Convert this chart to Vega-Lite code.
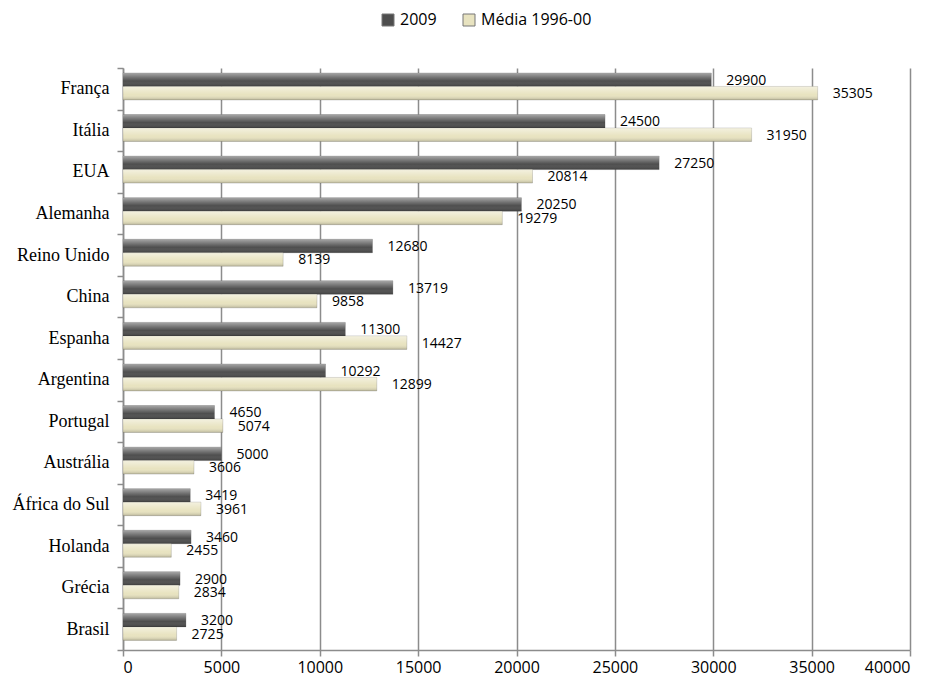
{
  "$schema": "https://vega.github.io/schema/vega-lite/v6.json",
  "width": 787,
  "height": 582,
  "autosize": {"type": "none"},
  "padding": {"left": 123, "top": 68, "right": 26, "bottom": 30},
  "background": "white",
  "config": {
    "view": {"stroke": null},
    "axis": {"labelColor": "black"}
  },
  "data": {
    "values": [
      {"pais": "França", "serie": "2009", "valor": 29900},
      {"pais": "França", "serie": "Média 1996-00", "valor": 35305},
      {"pais": "Itália", "serie": "2009", "valor": 24500},
      {"pais": "Itália", "serie": "Média 1996-00", "valor": 31950},
      {"pais": "EUA", "serie": "2009", "valor": 27250},
      {"pais": "EUA", "serie": "Média 1996-00", "valor": 20814},
      {"pais": "Alemanha", "serie": "2009", "valor": 20250},
      {"pais": "Alemanha", "serie": "Média 1996-00", "valor": 19279},
      {"pais": "Reino Unido", "serie": "2009", "valor": 12680},
      {"pais": "Reino Unido", "serie": "Média 1996-00", "valor": 8139},
      {"pais": "China", "serie": "2009", "valor": 13719},
      {"pais": "China", "serie": "Média 1996-00", "valor": 9858},
      {"pais": "Espanha", "serie": "2009", "valor": 11300},
      {"pais": "Espanha", "serie": "Média 1996-00", "valor": 14427},
      {"pais": "Argentina", "serie": "2009", "valor": 10292},
      {"pais": "Argentina", "serie": "Média 1996-00", "valor": 12899},
      {"pais": "Portugal", "serie": "2009", "valor": 4650},
      {"pais": "Portugal", "serie": "Média 1996-00", "valor": 5074},
      {"pais": "Austrália", "serie": "2009", "valor": 5000},
      {"pais": "Austrália", "serie": "Média 1996-00", "valor": 3606},
      {"pais": "África do Sul", "serie": "2009", "valor": 3419},
      {"pais": "África do Sul", "serie": "Média 1996-00", "valor": 3961},
      {"pais": "Holanda", "serie": "2009", "valor": 3460},
      {"pais": "Holanda", "serie": "Média 1996-00", "valor": 2455},
      {"pais": "Grécia", "serie": "2009", "valor": 2900},
      {"pais": "Grécia", "serie": "Média 1996-00", "valor": 2834},
      {"pais": "Brasil", "serie": "2009", "valor": 3200},
      {"pais": "Brasil", "serie": "Média 1996-00", "valor": 2725}
    ]
  },
  "encoding": {
    "y": {
      "field": "pais",
      "type": "nominal",
      "sort": ["França", "Itália", "EUA", "Alemanha", "Reino Unido", "China", "Espanha", "Argentina", "Portugal", "Austrália", "África do Sul", "Holanda", "Grécia", "Brasil"],
      "scale": {"paddingInner": 0, "paddingOuter": 0},
      "axis": {
        "title": null,
        "labelFont": "Liberation Serif",
        "labelFontSize": 18,
        "labelPadding": 8,
        "tickBand": "extent",
        "tickSize": 6,
        "tickColor": "#8c8c8c",
        "tickWidth": 1.5,
        "domainColor": "#8c8c8c",
        "domainWidth": 1.5,
        "grid": false
      }
    },
    "yOffset": {
      "field": "serie",
      "type": "nominal",
      "scale": {"paddingInner": 0, "paddingOuter": 0.54, "align": 0.34}
    },
    "x": {
      "field": "valor",
      "type": "quantitative",
      "scale": {"domain": [0, 40000], "nice": false},
      "axis": {
        "title": null,
        "values": [0, 5000, 10000, 15000, 20000, 25000, 30000, 35000, 40000],
        "format": "d",
        "labelFont": "Open Sans",
        "labelFontSize": 16,
        "labelPadding": 3,
        "tickSize": 6,
        "tickColor": "#8c8c8c",
        "tickWidth": 1.5,
        "domainColor": "#8c8c8c",
        "domainWidth": 1.5,
        "grid": true,
        "gridColor": "#8c8c8c",
        "gridWidth": 1.5
      }
    }
  },
  "layer": [
    {
      "mark": {"type": "bar", "stroke": "#3a3a3a", "strokeWidth": 0.5, "strokeOpacity": 0.4},
      "encoding": {
        "color": {
          "field": "serie",
          "type": "nominal",
          "scale": {"domain": ["2009", "Média 1996-00"], "range": ["#4e4e4e", "#e8e3c0"]},
          "legend": {
            "title": null,
            "orient": "none",
            "direction": "horizontal",
            "legendX": 257,
            "legendY": -56,
            "symbolType": "square",
            "symbolSize": 144,
            "symbolStrokeColor": "#777",
            "symbolStrokeWidth": 1,
            "labelFont": "Open Sans",
            "labelFontSize": 16,
            "labelColor": "black",
            "columnPadding": 24,
            "labelOffset": 4
          }
        }
      }
    },
    {
      "mark": {
        "type": "bar",
        "color": {
          "gradient": "linear",
          "x1": 0, "y1": 0, "x2": 0, "y2": 1,
          "stops": [
            {"offset": 0, "color": "rgba(255,255,255,0.5)"},
            {"offset": 0.35, "color": "rgba(255,255,255,0.2)"},
            {"offset": 0.6, "color": "rgba(255,255,255,0)"},
            {"offset": 1, "color": "rgba(0,0,0,0.2)"}
          ]
        }
      },
      "encoding": {}
    },
    {
      "mark": {"type": "text", "align": "left", "baseline": "middle", "dx": 15, "dy": 1, "font": "Open Sans", "fontSize": 14, "color": "black"},
      "encoding": {
        "text": {"field": "valor", "type": "quantitative", "format": "d"}
      }
    }
  ]
}
